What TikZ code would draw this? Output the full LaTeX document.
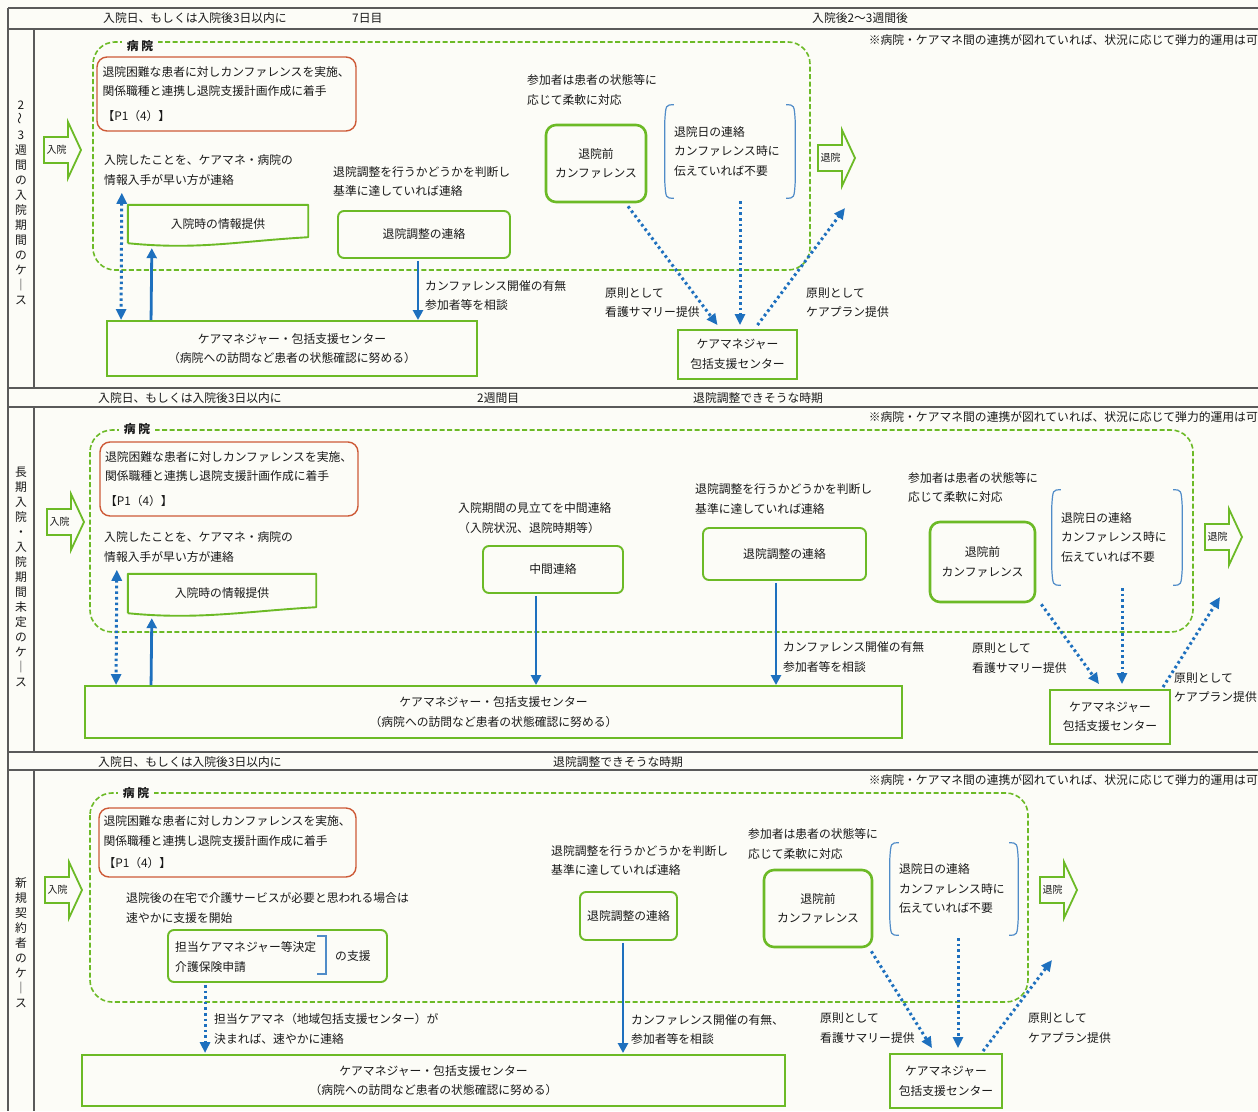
\documentclass[tikz,border=0pt]{standalone}
\usepackage{fontspec}
\setmainfont{Noto Sans CJK JP}
\usepackage{graphicx}
\usetikzlibrary{arrows.meta}
\definecolor{grn}{RGB}{108,186,38}
\definecolor{blu}{RGB}{30,112,190}
\definecolor{lblu}{RGB}{80,140,200}
\definecolor{redc}{RGB}{205,90,55}
\definecolor{bgc}{RGB}{252,252,247}
\definecolor{frm}{RGB}{90,90,90}
\definecolor{txc}{RGB}{25,25,25}
\newcommand\BlkArrow[4]{%
  \draw[barrow] ({#2},{#3-13}) -- ({#2+24},{#3-13}) -- ({#2+24},{#3-28}) -- ({#2+37},{#3}) -- ({#2+24},{#3+28}) -- ({#2+24},{#3+13}) -- ({#2},{#3+13}) -- cycle;
  \node[font=\fontsize{10}{12}\selectfont] (#1) at ({#2+12.5},{#3}) {#4};}
\newcommand\BrkDraw[1]{%
  \draw[brkl] ([xshift=9]#1.north west) .. controls ([xshift=1]#1.north west) .. ([yshift=-16]#1.north west) -- ([yshift=16]#1.south west) .. controls ([xshift=1]#1.south west) .. ([xshift=9]#1.south west);
  \draw[brkl] ([xshift=-9]#1.north east) .. controls ([xshift=-1]#1.north east) .. ([yshift=-16]#1.north east) -- ([yshift=16]#1.south east) .. controls ([xshift=-1]#1.south east) .. ([xshift=-9]#1.south east);}
\newcommand\WavyBox[1]{%
  \draw[gline] (#1.south west) -- (#1.north west) -- (#1.north east) -- ([yshift=6]#1.south east) .. controls ([xshift=-70,yshift=2]#1.south east) and ([xshift=70,yshift=-7]#1.south west) .. (#1.south west);}
\begin{document}
\begin{tikzpicture}[x=1pt,y=-1pt,
  every node/.style={font=\fontsize{11.8}{19.5}\selectfont, text=txc, inner sep=0pt},
  frame/.style={draw=frm, line width=1.3pt},
  lt/.style={anchor=west, align=left},
  gbox/.style={draw=grn, line width=1.9pt, rounded corners=6pt, fill=bgc, align=center},
  confbox/.style={draw=grn, line width=2.6pt, rounded corners=10pt, fill=bgc, align=center},
  cmbox/.style={draw=grn, line width=1.9pt, fill=bgc, align=center},
  redbox/.style={draw=redc, line width=1.4pt, rounded corners=10pt, fill=bgc, align=left},
  gline/.style={draw=grn, line width=1.9pt, line join=round},
  barrow/.style={draw=grn, line width=1.8pt, fill=bgc, line join=miter},
  brkl/.style={draw=lblu, line width=1.2pt},
  hosp/.style={draw=grn, line width=1.6pt, dash pattern=on 5pt off 2.5pt, rounded corners=22pt},
  hlab/.style={fill=bgc, inner xsep=5pt, inner ysep=2pt, font=\fontsize{11.8}{14}\selectfont\bfseries},
  vlab/.style={align=center, font=\fontsize{11.8}{15}\selectfont},
  sarr/.style={draw=blu, line width=2.8pt, -{Triangle[width=10pt,length=10pt]}},
  darr/.style={draw=blu, line width=3pt, dash pattern=on 2.6pt off 3pt, -{Triangle[width=10pt,length=11pt]}},
  ddarr/.style={draw=blu, line width=3pt, dash pattern=on 2.6pt off 3pt, {Triangle[width=10pt,length=11pt]}-{Triangle[width=10pt,length=11pt]}}
]
\useasboundingbox (0,0) rectangle (1258,1111);
\fill[bgc] (0,0) rectangle (1258,1111);

% ---------- frame ----------
\draw[frame] (8,8) -- (1258,8);
\draw[frame] (8,29) -- (1258,29);
\draw[frame] (8,388) -- (1258,388);
\draw[frame] (8,407) -- (1258,407);
\draw[frame] (8,752) -- (1258,752);
\draw[frame] (8,770) -- (1258,770);
\draw[frame] (8,8) -- (8,1111);
\draw[frame] (34,29) -- (34,388);
\draw[frame] (34,407) -- (34,752);
\draw[frame] (34,770) -- (34,1111);

% ================= Panel 1 =================
\node[lt] (h1a) at (103,18) {入院日、もしくは入院後3日以内に};
\node[lt] (h1b) at (352,18) {7日目};
\node[lt] (h1c) at (812,18) {入院後2～3週間後};
\node[anchor=east] (n1) at (1258,40) {※病院・ケアマネ間の連携が図れていれば、状況に応じて弾力的運用は可};
\node[vlab] (v1) at (21,203) {2\\\rotatebox{90}{～}\\3\\週\\間\\の\\入\\院\\期\\間\\の\\ケ\\｜\\ス};

\draw[hosp] (93,42) rectangle (810,270);
\node[hlab] (hl1) at (140,46) {病\ 院};
\node[redbox, minimum width=259, minimum height=74, text width=248] (red1) at (226.5,94) {退院困難な患者に対しカンファレンスを実施、\\関係職種と連携し退院支援計画作成に着手\\[5pt]【P1（4）】};
\BlkArrow{in1}{44}{150}{入院}
\BlkArrow{out1}{818}{158}{退院}
\node[lt] (t1a) at (104,170) {入院したことを、ケアマネ・病院の\\情報入手が早い方が連絡};
\node[minimum width=180, minimum height=38] (info1) at (218,224) {入院時の情報提供};
\WavyBox{info1}
\node[lt] (t1b) at (333,181.5) {退院調整を行うかどうかを判断し\\基準に達していれば連絡};
\node[gbox, minimum width=172, minimum height=47] (adj1) at (424,234.5) {退院調整の連絡};
\node[cmbox, minimum width=370, minimum height=55] (cm1) at (292,348.5) {ケアマネジャー・包括支援センター\\（病院への訪問など患者の状態確認に努める）};
\node[lt] (t1c) at (425,295.5) {カンファレンス開催の有無\\参加者等を相談};
\node[lt] (t1d) at (527,90) {参加者は患者の状態等に\\応じて柔軟に対応};
\node[confbox, minimum width=100, minimum height=77] (conf1) at (596,163.5) {退院前\\カンファレンス};
\node[minimum width=130, minimum height=93, text width=112, align=left] (brk1) at (730,151.5) {退院日の連絡\\カンファレンス時に\\伝えていれば不要};
\BrkDraw{brk1}
\node[cmbox, minimum width=119, minimum height=49] (cms1) at (737.5,354.5) {ケアマネジャー\\包括支援センター};
\node[lt] (t1e) at (605,302.5) {原則として\\看護サマリー提供};
\node[lt] (t1f) at (806,302.5) {原則として\\ケアプラン提供};
\coordinate (u1) at (845,208);
\draw[ddarr] ([xshift=-6,yshift=12]info1.north west) -- ([xshift=15]cm1.north west);
\draw[sarr] ([xshift=45]cm1.north west) -- ([xshift=24,yshift=-5]info1.south west);
\draw[sarr] ([xshift=-6,yshift=-2]adj1.south) -- ([xshift=126]cm1.north);
\draw[darr] ([xshift=32,yshift=-3]conf1.south) -- ([xshift=-20,yshift=4]cms1.north);
\draw[darr] ([xshift=10,yshift=-3]brk1.south) -- ([xshift=2.5,yshift=4]cms1.north);
\draw[darr] ([xshift=20,yshift=4]cms1.north) -- (u1);

% ================= Panel 2 =================
\node[lt] (h2a) at (98,398) {入院日、もしくは入院後3日以内に};
\node[lt] (h2b) at (477,398) {2週間目};
\node[lt] (h2c) at (693,398) {退院調整できそうな時期};
\node[anchor=east] (n2) at (1258,417) {※病院・ケアマネ間の連携が図れていれば、状況に応じて弾力的運用は可};
\node[vlab] (v2) at (21,577) {長\\期\\入\\院\\・\\入\\院\\期\\間\\未\\定\\の\\ケ\\｜\\ス};

\draw[hosp] (90,430) rectangle (1193,632);
\node[hlab] (hl2) at (137,429) {病\ 院};
\node[redbox, minimum width=258, minimum height=74, text width=248] (red2) at (229,479) {退院困難な患者に対しカンファレンスを実施、\\関係職種と連携し退院支援計画作成に着手\\[5pt]【P1（4）】};
\BlkArrow{in2}{47}{522}{入院}
\BlkArrow{out2}{1205}{537}{退院}
\node[lt] (t2a) at (104,547) {入院したことを、ケアマネ・病院の\\情報入手が早い方が連絡};
\node[minimum width=188, minimum height=39] (info2) at (222,593.5) {入院時の情報提供};
\WavyBox{info2}
\node[lt] (t2b) at (458,518) {入院期間の見立てを中間連絡\\（入院状況、退院時期等）};
\node[gbox, minimum width=140, minimum height=47] (mid2) at (553,569.5) {中間連絡};
\node[lt] (t2c) at (695,499) {退院調整を行うかどうかを判断し\\基準に達していれば連絡};
\node[gbox, minimum width=163, minimum height=52] (adj2) at (784.5,554) {退院調整の連絡};
\node[cmbox, minimum width=817, minimum height=52] (cm2) at (493.5,712) {ケアマネジャー・包括支援センター\\（病院への訪問など患者の状態確認に努める）};
\node[lt] (t2d) at (783,657) {カンファレンス開催の有無\\参加者等を相談};
\node[lt] (t2e) at (908,487.5) {参加者は患者の状態等に\\応じて柔軟に対応};
\node[confbox, minimum width=105, minimum height=80] (conf2) at (982.5,562) {退院前\\カンファレンス};
\node[minimum width=130, minimum height=95, text width=112, align=left] (brk2) at (1117,537.5) {退院日の連絡\\カンファレンス時に\\伝えていれば不要};
\BrkDraw{brk2}
\node[cmbox, minimum width=120, minimum height=54] (cms2) at (1110,717) {ケアマネジャー\\包括支援センター};
\node[lt] (t2f) at (972,658) {原則として\\看護サマリー提供};
\node[lt] (t2g) at (1174,687.5) {原則として\\ケアプラン提供};
\coordinate (u2) at (1220,597);
\draw[ddarr] ([xshift=-11,yshift=4]info2.north west) -- ([xshift=32]cm2.north west);
\draw[sarr] ([xshift=67]cm2.north west) -- ([xshift=24,yshift=-5]info2.south west);
\draw[sarr] ([xshift=-17,yshift=-2]mid2.south) -- ([xshift=42.5]cm2.north);
\draw[sarr] ([xshift=-8.5,yshift=-2]adj2.south) -- ([xshift=282.5]cm2.north);
\draw[darr] ([xshift=5,yshift=-1]conf2.south east) -- ([xshift=-11,yshift=5]cms2.north);
\draw[darr] ([xshift=5,yshift=-3]brk2.south) -- ([xshift=12,yshift=5]cms2.north);
\draw[darr] ([xshift=53,yshift=2]cms2.north) -- (u2);

% ================= Panel 3 =================
\node[lt] (h3a) at (98,762) {入院日、もしくは入院後3日以内に};
\node[lt] (h3b) at (553,762) {退院調整できそうな時期};
\node[anchor=east] (n3) at (1258,780) {※病院・ケアマネ間の連携が図れていれば、状況に応じて弾力的運用は可};
\node[vlab] (v3) at (21,943) {新\\規\\契\\約\\者\\の\\ケ\\｜\\ス};

\draw[hosp] (90,793) rectangle (1028,1002);
\node[hlab] (hl3) at (136,793) {病\ 院};
\node[redbox, minimum width=257, minimum height=69, text width=248] (red3) at (227.5,842.5) {退院困難な患者に対しカンファレンスを実施、\\関係職種と連携し退院支援計画作成に着手\\[3pt]【P1（4）】};
\BlkArrow{in3}{45}{890}{入院}
\BlkArrow{out3}{1040}{890}{退院}
\node[lt] (t3a) at (126,908) {退院後の在宅で介護サービスが必要と思われる場合は\\速やかに支援を開始};
\node[gbox, minimum width=219, minimum height=52] (sup3) at (277.5,956) {};
\node[lt] (sup3a) at (175,957) {担当ケアマネジャー等決定\\介護保険申請};
\draw[brkl] ([xshift=150,yshift=-7]sup3.north west) -- ++(9,0) -- ++(0,38) -- ++(-9,0);
\node[lt] (sup3b) at (335,956) {の支援};
\node[lt] (t3b) at (214,1029) {担当ケアマネ（地域包括支援センター）が\\決まれば、速やかに連絡};
\node[cmbox, minimum width=703, minimum height=51] (cm3) at (433.5,1080.5) {ケアマネジャー・包括支援センター\\（病院への訪問など患者の状態確認に努める）};
\node[lt] (t3c) at (551,860.5) {退院調整を行うかどうかを判断し\\基準に達していれば連絡};
\node[gbox, minimum width=97, minimum height=48] (adj3) at (628.5,916) {退院調整の連絡};
\node[lt] (t3d) at (631,1029.5) {カンファレンス開催の有無、\\参加者等を相談};
\node[lt] (t3e) at (748,844) {参加者は患者の状態等に\\応じて柔軟に対応};
\node[confbox, minimum width=108, minimum height=77] (conf3) at (818,908.5) {退院前\\カンファレンス};
\node[minimum width=128, minimum height=92, text width=110, align=left] (brk3) at (954,889) {退院日の連絡\\カンファレンス時に\\伝えていれば不要};
\BrkDraw{brk3}
\node[cmbox, minimum width=112, minimum height=54] (cms3) at (946,1081) {ケアマネジャー\\包括支援センター};
\node[lt] (t3f) at (820,1028) {原則として\\看護サマリー提供};
\node[lt] (t3g) at (1028,1028) {原則として\\ケアプラン提供};
\coordinate (u3) at (1052,960);
\draw[darr] ([xshift=38,yshift=-2]sup3.south west) -- ([xshift=124,yshift=1]cm3.north west);
\draw[sarr] ([xshift=-5.5,yshift=-2]adj3.south) -- ([xshift=189.5,yshift=1]cm3.north);
\draw[darr] ([xshift=-2,yshift=-3]conf3.south east) -- ([xshift=-14,yshift=5]cms3.north);
\draw[darr] ([xshift=4,yshift=-3]brk3.south) -- ([xshift=12,yshift=5]cms3.north);
\draw[darr] ([xshift=37,yshift=2]cms3.north) -- (u3);
\end{tikzpicture}
\end{document}
